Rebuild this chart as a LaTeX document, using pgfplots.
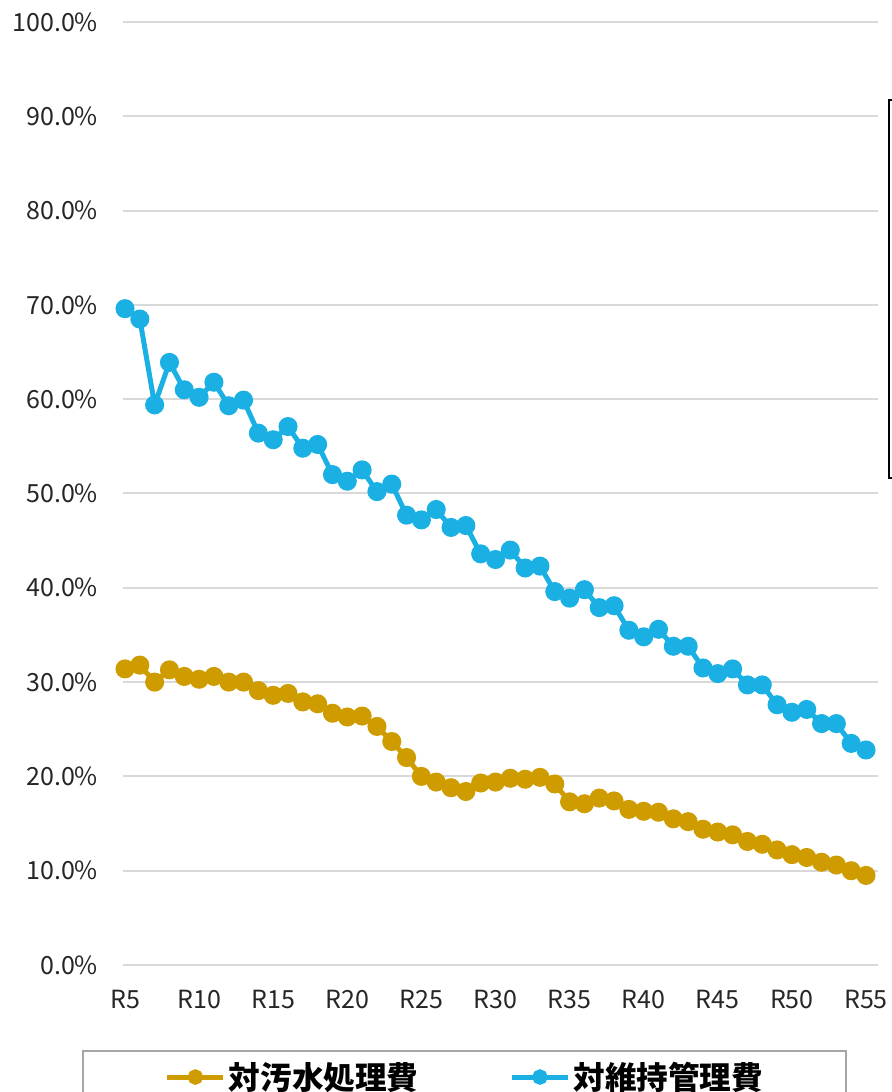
\documentclass[border=0pt]{standalone}
\usepackage{pgfplots}
\pgfplotsset{compat=1.18}
\usepackage{pgfplotstable}
\usepackage{fontspec}
\setmainfont{Noto Sans CJK JP}
\definecolor{cgold}{RGB}{207,156,0}
\definecolor{cblue}{RGB}{26,176,228}
\definecolor{cgrid}{RGB}{217,217,217}

\pgfplotstableread{
x y
5 31.4
6 31.8
7 30.0
8 31.3
9 30.6
10 30.3
11 30.6
12 30.0
13 30.0
14 29.1
15 28.6
16 28.8
17 27.9
18 27.7
19 26.7
20 26.3
21 26.4
22 25.3
23 23.7
24 22.0
25 20.0
26 19.4
27 18.8
28 18.4
29 19.3
30 19.4
31 19.8
32 19.7
33 19.9
34 19.2
35 17.3
36 17.1
37 17.7
38 17.4
39 16.5
40 16.3
41 16.2
42 15.5
43 15.2
44 14.4
45 14.1
46 13.8
47 13.1
48 12.8
49 12.2
50 11.7
51 11.4
52 10.9
53 10.6
54 10.0
55 9.5
}\gold

\pgfplotstableread{
x y
5 69.6
6 68.5
7 59.4
8 63.9
9 61.0
10 60.2
11 61.8
12 59.3
13 59.9
14 56.4
15 55.7
16 57.1
17 54.8
18 55.2
19 52.0
20 51.3
21 52.5
22 50.2
23 51.0
24 47.7
25 47.2
26 48.3
27 46.4
28 46.6
29 43.6
30 43.0
31 44.0
32 42.1
33 42.3
34 39.6
35 38.9
36 39.8
37 37.9
38 38.1
39 35.5
40 34.8
41 35.6
42 33.8
43 33.8
44 31.5
45 30.9
46 31.4
47 29.7
48 29.7
49 27.6
50 26.8
51 27.1
52 25.6
53 25.6
54 23.5
55 22.8
}\blue

\begin{document}
\begin{tikzpicture}
\useasboundingbox (0pt,0pt) rectangle (446pt,546pt);
\begin{axis}[
  at={(61.5pt,63.5pt)}, anchor=south west,
  scale only axis, width=377.5pt, height=471.5pt,
  xmin=4.865, xmax=55.81, ymin=0, ymax=100,
  axis line style={draw=none},
  major tick length=0pt,
  xtick={5,10,...,55},
  xticklabels={R5,R10,R15,R20,R25,R30,R35,R40,R45,R50,R55},
  ytick={0,10,...,100},
  yticklabel={\pgfmathprintnumber[fixed,fixed zerofill,precision=1]{\tick}\%},
  /pgf/number format/assume math mode=true,
  ymajorgrids, grid style={cgrid, line width=1pt},
  tick label style={font=\fontsize{12.5}{14}\selectfont, color=black!85},
  yticklabel style={xshift=-9pt},
  xticklabel style={yshift=-9pt},
  clip=false,
  legend columns=2,
  legend style={draw=none, fill=none, at={(0.4536,-0.1188)}, anchor=center,
    font=\fontsize{15.8}{18}\selectfont\bfseries,
    /tikz/every even column/.append style={column sep=44pt},
    nodes={inner sep=1.5pt}},
  legend image code/.code={
    \draw[#1, mark repeat=2, mark phase=2, mark size=2.6pt] plot coordinates {(0pt,0pt) (14pt,0pt) (28pt,0pt)};},
]
\addplot[cgold, line width=2.5pt, mark=*, mark size=3.5pt] table {\gold};
\addlegendentry{対汚水処理費}
\addplot[cblue, line width=2.5pt, mark=*, mark size=3.5pt] table {\blue};
\addlegendentry{対維持管理費}
\end{axis}
\draw[black!35, line width=0.8pt] (41.5pt,-20pt) rectangle (423pt,20.5pt);
\draw[black, line width=0.9pt] (444.5pt,307pt) rectangle (470pt,496pt);
\end{tikzpicture}
\end{document}
